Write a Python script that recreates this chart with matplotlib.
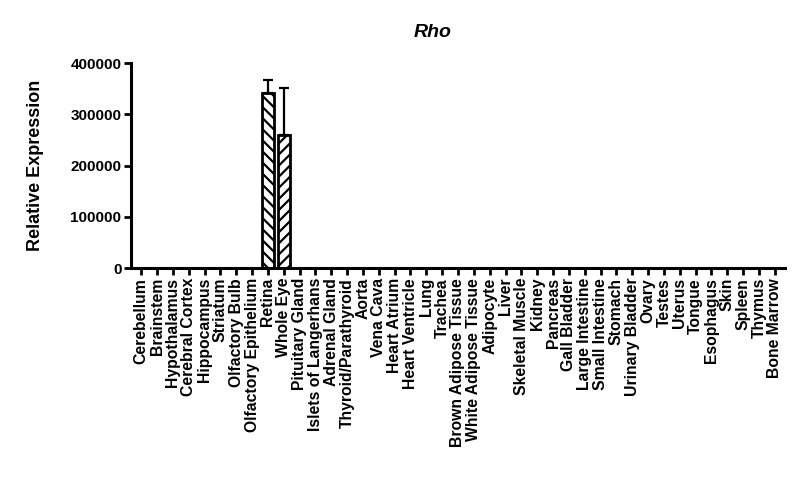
import numpy as np
import matplotlib
matplotlib.use("Agg")
import matplotlib.pyplot as plt

plt.rcParams["font.family"] = ["Liberation Sans", "DejaVu Sans"]
plt.rcParams["font.weight"] = "bold"
plt.rcParams["hatch.linewidth"] = 1.6

tissues = ["Cerebellum", "Brainstem", "Hypothalamus", "Cerebral Cortex", "Hippocampus",
           "Striatum", "Olfactory Bulb", "Olfactory Epithelium", "Retina", "Whole Eye",
           "Pituitary Gland", "Islets of Langerhans", "Adrenal Gland", "Thyroid/Parathyroid",
           "Aorta", "Vena Cava", "Heart Atrium", "Heart Ventricle", "Lung", "Trachea",
           "Brown Adipose Tissue", "White Adipose Tissue", "Adipocyte", "Liver",
           "Skeletal Muscle", "Kidney", "Pancreas", "Gall Bladder", "Large Intestine",
           "Small Intestine", "Stomach", "Urinary Bladder", "Ovary", "Testes", "Uterus",
           "Tongue", "Esophagus", "Skin", "Spleen", "Thymus", "Bone Marrow"]
expr = [0] * len(tissues)
err = [0] * len(tissues)
expr[8], err[8] = 342000, 25000     # Retina
expr[9], err[9] = 259000, 92000     # Whole Eye
hatches = {8: "\\\\\\", 9: "///"}

fig = plt.figure(figsize=(8.0, 4.93), dpi=100)
ax = fig.add_axes([0.164, 0.456, 0.817, 0.416])
x = np.arange(len(tissues))
for i in x:
    if expr[i] > 0:
        ax.bar(i, expr[i], width=0.75, color="white", edgecolor="black", lw=2,
               hatch=hatches.get(i, ""), zorder=2)
        ax.errorbar(i, expr[i], yerr=[[0], [err[i]]], fmt="none", ecolor="black",
                    elinewidth=1.6, capsize=3.5, capthick=1.6, zorder=1)

ax.set_xlim(-0.63, 40.63)
ax.set_ylim(0, 400000)
ax.set_yticks([0, 100000, 200000, 300000, 400000])
ax.set_yticklabels(["0", "100000", "200000", "300000", "400000"], fontsize=11, fontweight="bold")
ax.set_xticks(x)
ax.set_xticklabels(tissues, rotation=90, fontsize=11.3, fontweight="bold")
for s in ("top", "right"):
    ax.spines[s].set_visible(False)
for s in ("left", "bottom"):
    ax.spines[s].set_linewidth(2.2)
ax.tick_params(direction="out", length=5, width=2, pad=2)
ax.set_ylabel("Relative Expression", fontsize=13, fontweight="bold", labelpad=19)
fig.text(0.541, 0.935, "Rho", fontsize=14, fontweight="bold", style="italic", ha="center", va="center")

fig.savefig("out.png", dpi=100)
